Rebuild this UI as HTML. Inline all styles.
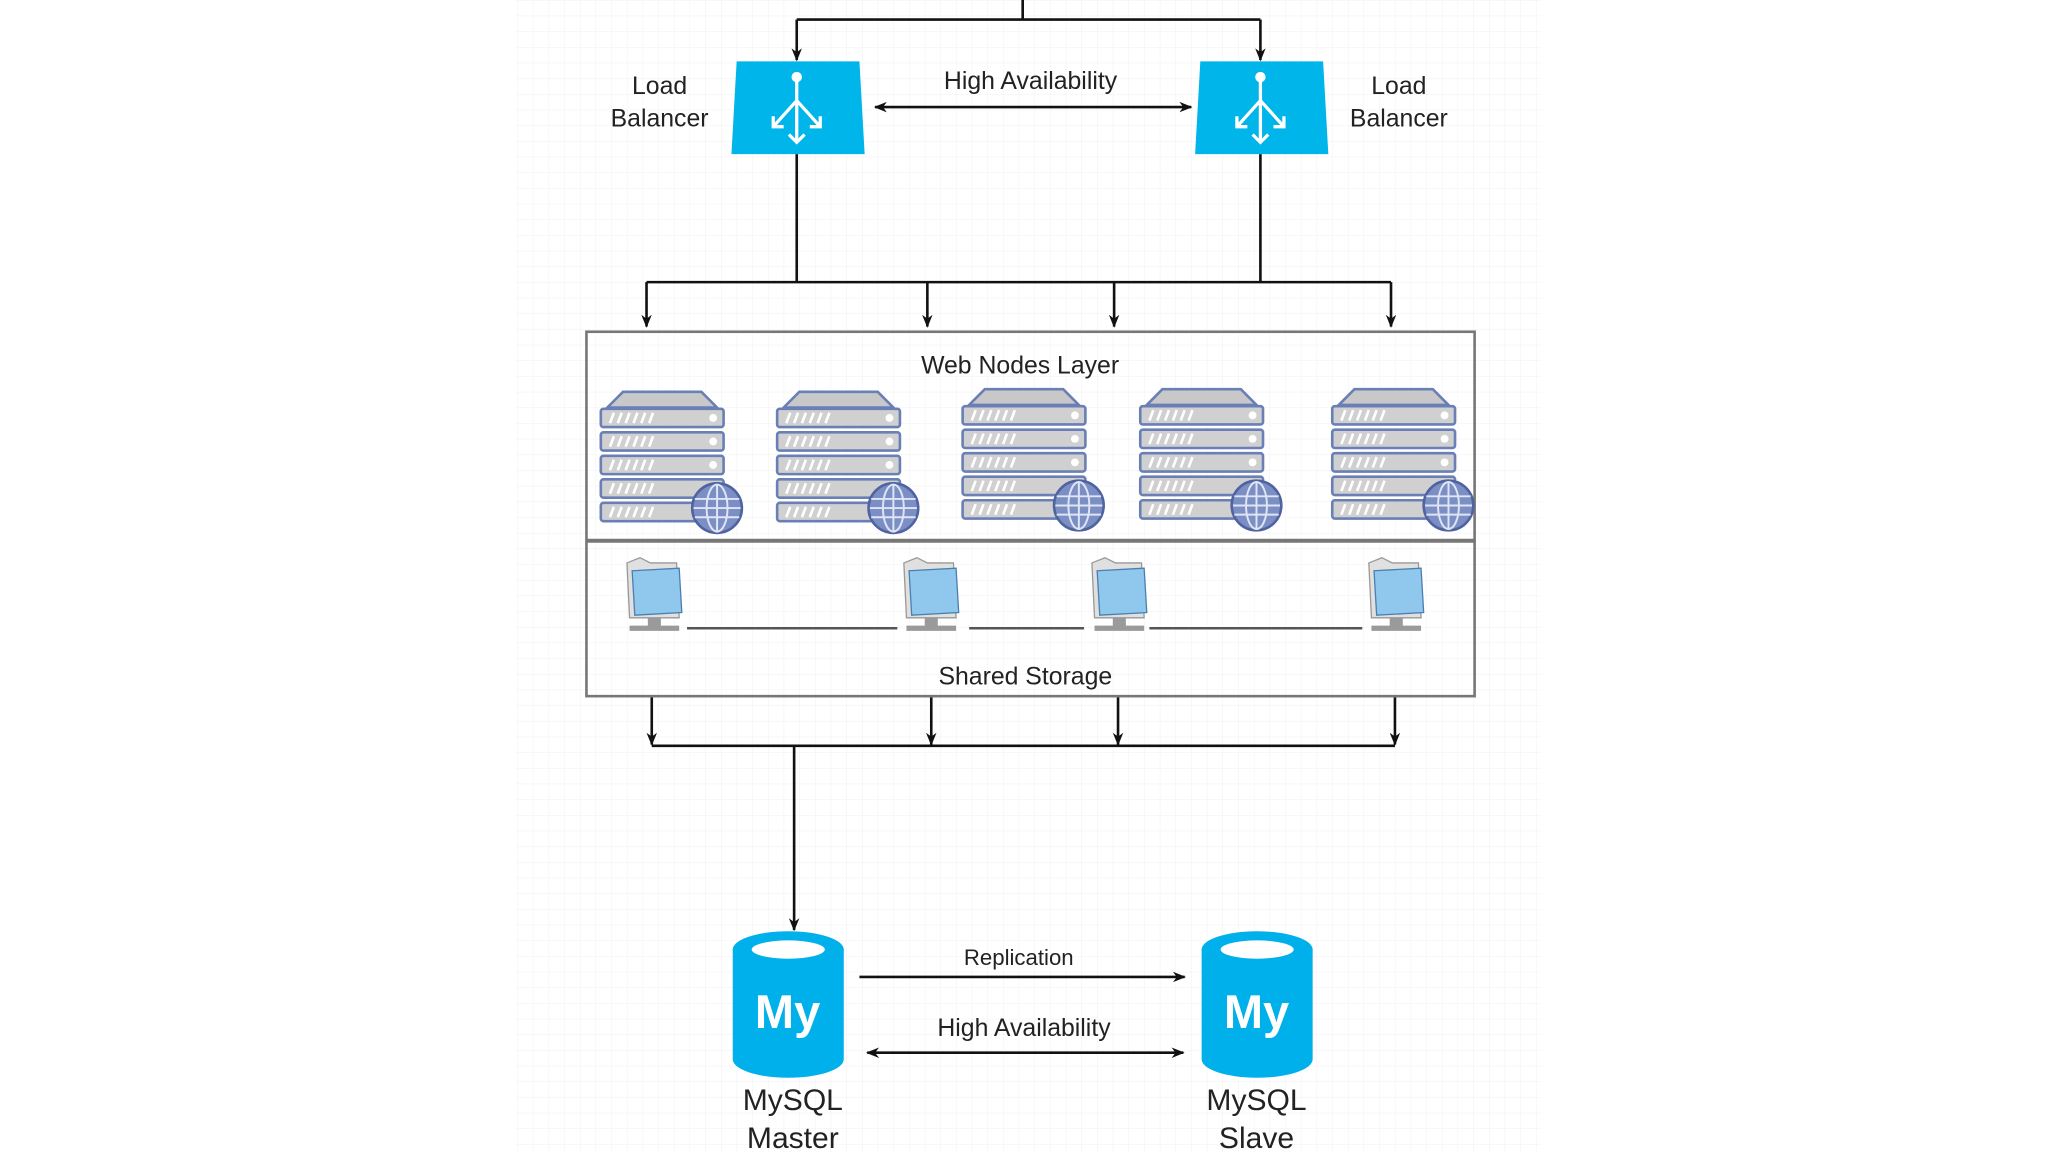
<!DOCTYPE html>
<html><head><meta charset="utf-8"><style>
html,body{margin:0;padding:0;background:#fff;width:2048px;height:1152px;overflow:hidden}
svg text{font-family:"Liberation Sans",sans-serif;fill:#222}
</style></head><body>
<svg width="2048" height="1152" viewBox="0 0 1568 882" xmlns="http://www.w3.org/2000/svg">
<defs>
<pattern id="g" width="12" height="12" patternUnits="userSpaceOnUse"><path d="M12 0H0V12" fill="none" stroke="#f0f0f0" stroke-width="0.7"/></pattern>
<marker id="a" markerWidth="10" markerHeight="10" refX="9" refY="5" orient="auto-start-reverse" markerUnits="userSpaceOnUse"><path d="M0,1 L10,5 L0,9 L3,5 Z" fill="#111"/></marker>
<g id="srv">
<path d="M6,12 L18,0 L78,0 L90,12 Z" fill="#c8c8c8" stroke="#6a7fb5" stroke-width="2"/>
<g fill="#d0d0d0" stroke="#6a7fb5" stroke-width="2">
<rect x="1" y="13" width="94" height="14" rx="2"/><rect x="1" y="31" width="94" height="14" rx="2"/><rect x="1" y="49" width="94" height="14" rx="2"/><rect x="1" y="67" width="94" height="14" rx="2"/><rect x="1" y="85" width="94" height="14" rx="2"/>
</g>
<g stroke="#fff" stroke-width="2"><path d="M8,24l3,-8M14,24l3,-8M20,24l3,-8M26,24l3,-8M32,24l3,-8M38,24l3,-8M8,42l3,-8M14,42l3,-8M20,42l3,-8M26,42l3,-8M32,42l3,-8M38,42l3,-8M8,60l3,-8M14,60l3,-8M20,60l3,-8M26,60l3,-8M32,60l3,-8M38,60l3,-8M8,78l3,-8M14,78l3,-8M20,78l3,-8M26,78l3,-8M32,78l3,-8M38,78l3,-8M8,96l3,-8M14,96l3,-8M20,96l3,-8M26,96l3,-8M32,96l3,-8M38,96l3,-8"/></g>
<g fill="#fff"><circle cx="87" cy="20" r="3"/><circle cx="87" cy="38" r="3"/><circle cx="87" cy="56" r="3"/></g>
<circle cx="90" cy="89" r="19" fill="#7b8fc4" stroke="#4f63a0" stroke-width="2"/>
<g fill="none" stroke="#dfe5f5" stroke-width="1.5"><ellipse cx="90" cy="89" rx="8" ry="18"/><path d="M90,71V107M73,82H107M72,89H108M73,96H107"/></g>
</g>
<g id="fld">
<path d="M4,4 L14,0 L22,4 L42,4 L44,46 L6,46 Z" fill="#e0e0e0" stroke="#999"/>
<path d="M8,10 L44,8 L46,42 L10,44 Z" fill="#8fc8ec" stroke="#4a7fb0"/>
<path d="M20,46 h10 v6 h-10z M6,52 h38 v4 h-38z" fill="#9a9a9a"/>
</g>
<g id="lb">
<path d="M4,0 L98,0 L102,71 L0,71 Z" fill="#00b5ea"/>
<g stroke="#fff" stroke-width="2.5" fill="none"><path d="M50,14V62M50,30L32,50M50,30L68,50M44,56l6,6l6,-6M32,42v8h8M68,42v8h-8"/></g>
<circle cx="50" cy="12" r="4" fill="#fff"/>
</g>
<g id="db">
<path d="M0,14 V98 A42,14 0 0 0 85,98 V14 Z" fill="#00b0ea"/>
<ellipse cx="42.5" cy="14" rx="42.5" ry="14" fill="#00b0ea"/>
<ellipse cx="42.5" cy="14" rx="28" ry="7" fill="#fff"/>
<text x="42" y="74" text-anchor="middle" font-size="36" font-weight="bold" style="fill:#fff">My</text>
</g>
</defs>
<rect x="395" y="0" width="785" height="882" fill="url(#g)"/>
<g stroke="#111" stroke-width="2" fill="none">
<path d="M783,0V15M610,15H965"/>
<path d="M610,15V46" marker-end="url(#a)"/><path d="M965,15V46" marker-end="url(#a)"/>
<path d="M670,82H912" marker-start="url(#a)" marker-end="url(#a)"/>
<path d="M610,118V216M965,118V216M495,216H1065"/>
<path d="M495,216V250" marker-end="url(#a)"/><path d="M710,216V250" marker-end="url(#a)"/><path d="M853,216V250" marker-end="url(#a)"/><path d="M1065,216V250" marker-end="url(#a)"/>
<path d="M499,534V570" marker-end="url(#a)"/><path d="M713,534V570" marker-end="url(#a)"/><path d="M856,534V570" marker-end="url(#a)"/><path d="M1068,534V570" marker-end="url(#a)"/>
<path d="M499,571H1068M608,571V712" marker-end="url(#a)"/>
<path d="M658,748H907" marker-end="url(#a)"/>
<path d="M664,806H906" marker-start="url(#a)" marker-end="url(#a)"/>
</g>
<rect x="449" y="254" width="680" height="279" fill="none" stroke="#777" stroke-width="2"/>
<line x1="449" y1="414" x2="1129" y2="414" stroke="#777" stroke-width="3"/>
<use href="#lb" x="560" y="47"/><use href="#lb" x="915" y="47"/>
<use href="#srv" x="459" y="300"/><use href="#srv" x="594" y="300"/><use href="#srv" x="736" y="298"/><use href="#srv" x="872" y="298"/><use href="#srv" x="1019" y="298"/>
<g stroke="#555" stroke-width="2"><path d="M526,481H687M742,481H830M880,481H1043"/></g>
<use href="#fld" x="476" y="427"/><use href="#fld" x="688" y="427"/><use href="#fld" x="832" y="427"/><use href="#fld" x="1044" y="427"/>
<use href="#db" x="561" y="713"/><use href="#db" x="920" y="713"/>
<g font-size="19" text-anchor="middle">
<text x="505" y="72">Load</text><text x="505" y="97">Balancer</text>
<text x="1071" y="72">Load</text><text x="1071" y="97">Balancer</text>
<text x="789" y="68">High Availability</text>
<text x="781" y="286">Web Nodes Layer</text>
<text x="785" y="524">Shared Storage</text>
<text x="780" y="739" font-size="17">Replication</text>
<text x="784" y="793">High Availability</text>
<text x="607" y="850" font-size="23">MySQL</text><text x="607" y="879" font-size="23">Master</text>
<text x="962" y="850" font-size="23">MySQL</text><text x="962" y="879" font-size="23">Slave</text>
</g>
</svg>
</body></html>
